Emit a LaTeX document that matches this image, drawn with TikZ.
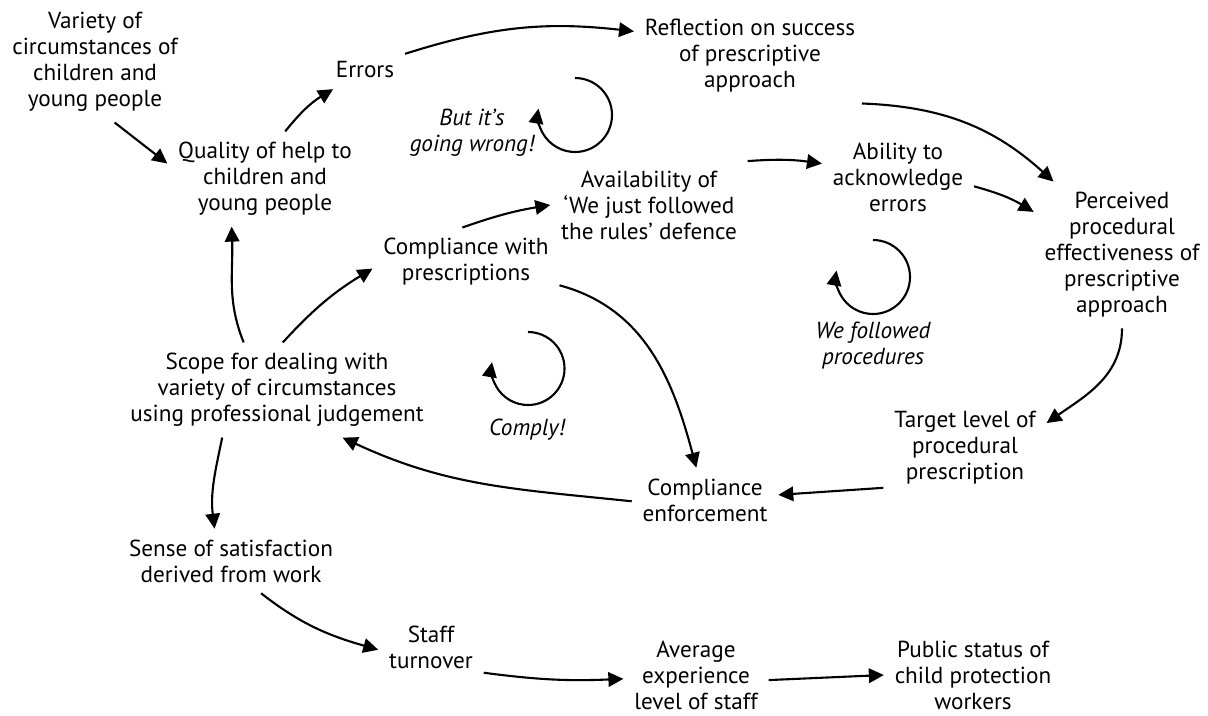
\documentclass[tikz,border=0pt]{standalone}
\usepackage{fontspec}
\setmainfont{PT Sans}
\usetikzlibrary{arrows.meta}
\tikzset{
  factor/.style={align=center,inner sep=6pt,font=\fontsize{13.2}{14.8}\selectfont},
  loopname/.style={align=center,inner sep=2pt,font=\fontsize{13.2}{14.8}\selectfont\itshape},
  causal/.style={-{Triangle[length=3mm,width=2.9mm]},line width=1.2pt},
}
\begin{document}
\begin{tikzpicture}[x=0.2mm,y=0.2mm]
    \useasboundingbox (0,0) rectangle (1208,-715);
    \node[factor](var)at(95,-62) {Variety of\\circumstances of\\children and\\young people};
    \node[factor](err)at(365,-70) {Errors};
    \node[factor](refl)at(750,-56) {Reflection on success\\of prescriptive\\approach};
    \node[factor](qual)at(265,-179) {Quality of help to\\children and\\young people};
    \node[factor](avail)at(649,-205) {Availability of\\`We just followed\\the rules' defence};
    \node[factor](abil)at(898,-177) {Ability to\\acknowledge\\errors};
    \node[factor](perc)at(1122,-255) {Perceived\\procedural\\effectiveness of\\prescriptive\\approach};
    \node[factor](compl)at(466,-262) {Compliance with\\prescriptions};
    \node[factor](scope)at(277,-390) {Scope for dealing with\\variety of circumstances\\using professional judgement};
    \node[factor](target)at(965,-448) {Target level of\\procedural\\prescription};
    \node[factor](enf)at(705,-500) {Compliance\\enforcement};
    \node[factor](sense)at(231,-561) {Sense of satisfaction\\derived from work};
    \node[factor](staff)at(431,-647) {Staff\\turnover};
    \node[factor](avg)at(696,-675) {Average\\experience\\level of staff};
    \node[factor](pub)at(973,-675) {Public status of\\child protection\\workers};

    \node[loopname](wrong)at(472,-133) {But it's\\going wrong!};
    \node[loopname](followed)at(873,-346) {We followed\\procedures};
    \node[loopname](comply)at(527,-430) {Comply!};
    \draw[causal] (575,-78) arc[start angle=90,end angle=-190,radius=7.4mm];
    \draw[causal] (873,-240) arc[start angle=90,end angle=-190,radius=7.4mm];
    \draw[causal] (528,-332) arc[start angle=90,end angle=-190,radius=7.3mm];

    \draw[causal](var.-72) -- (qual.171);
    \draw[causal](qual.67) to[bend left=10] (err.-149);
    \draw[causal](err.22) to[bend left=12] (refl.168);
    \draw[causal](refl.-23) to[bend left=20] (perc.133);
    \draw[causal](abil.-7) to[bend left=8] (perc.154);
    \draw[causal](avail.24) to[bend left=6] (abil.170);
    \draw[causal](compl.96) to[bend left=5] (avail.180);
    \draw[causal](perc.south) to[out=-90,in=35] (target.17);
    \draw[causal](target.-154) -- (enf.4);
    \draw[causal](compl.-14) to[out=-15,in=105] (enf.105);
    \draw[causal](enf.181) to[out=174,in=-25] (scope.-36);
    \draw[causal](scope.125) to[out=112,in=-88] (qual.-125);
    \draw[causal](scope.83) to[bend left=8] (compl.184);
    \draw[causal](scope.-139) to[out=-102,in=97] (sense.117);
    \draw[causal](sense.-47) to[out=-38,in=164] (staff.183);
    \draw[causal](staff.-26) to[bend right=5] (avg.183);
    \draw[causal](avg.-4) -- (pub.west);
\end{tikzpicture}
\end{document}
